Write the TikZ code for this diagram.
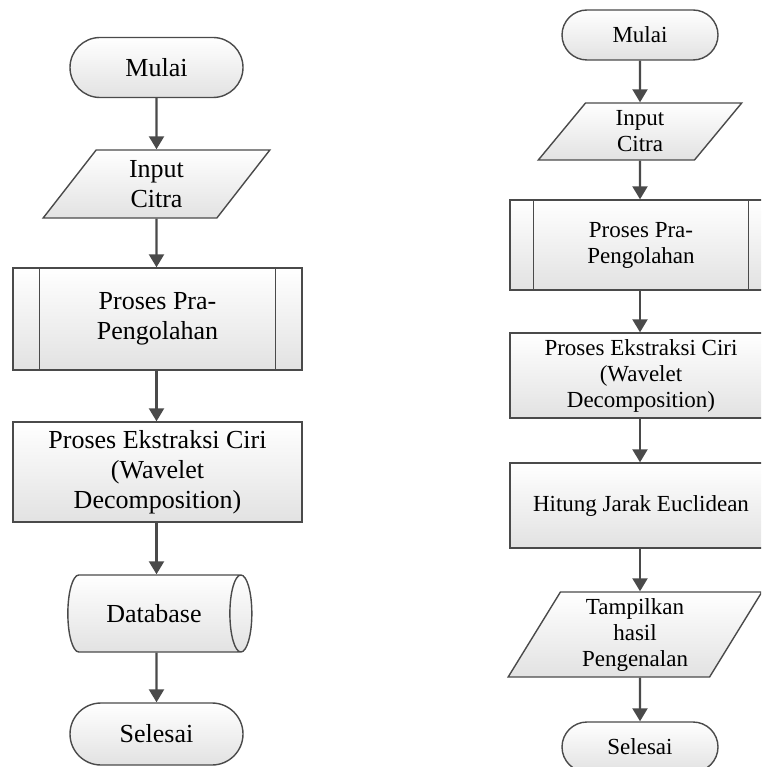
\documentclass[tikz,border=0pt]{standalone}
\usepackage{fontspec}
\setmainfont{Liberation Serif}
\usetikzlibrary{shapes.geometric,shapes.misc,arrows.meta}
\definecolor{edge}{HTML}{4A4A4A}
\definecolor{shade}{HTML}{E2E2E2}
\tikzset{
  box/.style={draw=edge,line width=1.4pt,top color=white,bottom color=shade,align=center,inner sep=0pt},
  term/.style={box,rounded rectangle},
  io/.style={box,trapezium,trapezium left angle=63,trapezium right angle=117,trapezium stretches},
  proc/.style={box,rectangle},
  store/.style={box,cylinder,aspect=1.2,shape border rotate=0},
  bar/.style={draw=edge,line width=1.4pt},
  flow/.style={draw=edge,line width=2.2pt,-{Triangle[width=15pt,length=13pt]}},
  big/.style={font=\fontsize{26}{30}\selectfont},
  small/.style={font=\fontsize{23}{26}\selectfont}
}
\begin{document}
\begin{tikzpicture}[x=1pt,y=-1pt]
  \useasboundingbox (0,0) rectangle (761,767);
  \clip (0,0) rectangle (761,767);
  \node[term,big,minimum width=173pt,minimum height=60pt] (l1) at (156.5,67.5) {Mulai};
  \node[io,big,minimum width=227pt,minimum height=68pt] (l2) at (156.5,184) {Input\\Citra};
  \node[proc,big,minimum width=289pt,minimum height=102pt] (l3) at (157.5,319) {Proses Pra-\\Pengolahan};
  \node[proc,big,minimum width=289pt,minimum height=100pt] (l4) at (157.5,472) {Proses Ekstraksi Ciri\\(Wavelet\\Decomposition)};
  \node[store,big,minimum width=77pt,minimum height=184pt] (l5) at (154,613.5) {Database};
  \node[term,big,minimum width=173pt,minimum height=62pt] (l6) at (156.5,734) {Selesai};
  \draw[bar] ([xshift=27pt]l3.north west) -- ([xshift=27pt]l3.south west);
  \draw[bar] ([xshift=-27pt]l3.north east) -- ([xshift=-27pt]l3.south east);
  \draw[flow] (l1) -- (l2);
  \draw[flow] (l2) -- (l2 |- l3.north);
  \draw[flow] (l3.south -| l2) -- (l2 |- l4.north);
  \draw[flow] (l4.south -| l2) -- (l2 |- l5.north);
  \draw[flow] (l5.south -| l2) -- (l6);

  \node[term,small,minimum width=156pt,minimum height=50pt] (r1) at (640,35) {Mulai};
  \node[io,small,minimum width=204pt,minimum height=57pt] (r2) at (640,131.5) {Input\\Citra};
  \node[proc,small,minimum width=262pt,minimum height=90pt] (r3) at (641,245) {Proses Pra-\\Pengolahan};
  \node[proc,small,minimum width=262pt,minimum height=85pt] (r4) at (641,375.5) {Proses Ekstraksi Ciri\\(Wavelet\\Decomposition)};
  \node[proc,small,minimum width=262pt,minimum height=85pt] (r5) at (641,505.5) {Hitung Jarak Euclidean};
  \node[io,small,minimum width=254pt,minimum height=85pt] (r6) at (635,634.5) {Tampilkan\\hasil\\Pengenalan};
  \node[term,small,minimum width=156pt,minimum height=50pt] (r7) at (640,747) {Selesai};
  \draw[bar] ([xshift=24pt]r3.north west) -- ([xshift=24pt]r3.south west);
  \draw[bar] ([xshift=-24pt]r3.north east) -- ([xshift=-24pt]r3.south east);
  \draw[flow] (r1) -- (r2);
  \draw[flow] (r2) -- (r2 |- r3.north);
  \draw[flow] (r3.south -| r1) -- (r1 |- r4.north);
  \draw[flow] (r4.south -| r1) -- (r1 |- r5.north);
  \draw[flow] (r5.south -| r1) -- (r1 |- r6.north);
  \draw[flow] (r6.south -| r1) -- (r7);
\end{tikzpicture}
\end{document}
